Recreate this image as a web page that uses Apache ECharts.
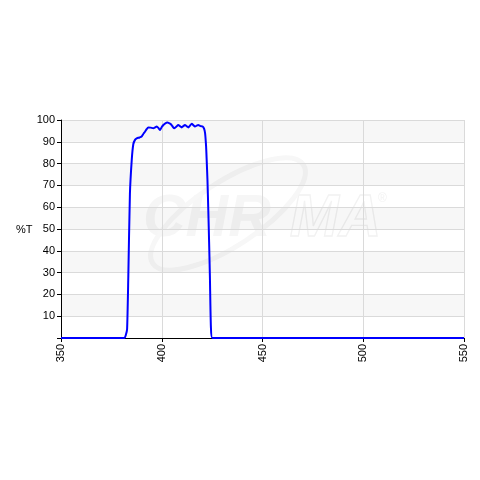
<!DOCTYPE html>
<html>
<head>
<meta charset="utf-8">
<script src="https://cdn.jsdelivr.net/npm/echarts@6/dist/echarts.min.js"></script>
<style>html,body{margin:0;padding:0;background:#fff}#c{width:480px;height:480px}</style>
</head>
<body>
<div id="c"></div>
<script>
var wavelengths = [350, 370, 381.5, 382.2, 382.8, 383.4, 384.2, 385.1, 385.9, 386.8, 387.6, 389, 390, 391, 391.7, 392.5, 393.3, 394.5, 395.8, 396.7, 397.5, 398.3, 399.1, 400, 400.8, 401.8, 402.8, 403.6, 404.4, 405.2, 406.1, 407.2, 408.2, 409, 409.9, 410.7, 411.5, 412.3, 413.2, 414, 414.9, 415.7, 416.5, 417.3, 418.1, 419.2, 420.3, 421, 421.5, 422, 422.3, 422.7, 423.1, 423.5, 423.9, 424.4, 425.1, 430, 450, 500, 550];
var transmission = [0, 0, 0, 1.5, 4, 28, 66, 81.6, 89, 91, 91.6, 92, 92.4, 93.8, 94.6, 95.8, 96.6, 96.5, 96.2, 96.6, 97, 96.4, 95.4, 96.8, 97.7, 98.5, 98.8, 98.6, 98.2, 97.3, 96.2, 96.9, 97.7, 97.2, 96.6, 97.2, 97.7, 97.2, 96.6, 97.4, 98.3, 97.6, 97, 97.4, 97.7, 97.2, 97, 96, 94, 88, 81.6, 72, 58.7, 44, 28, 5, 0, 0, 0, 0, 0];
var xTicks = [350, 400, 450, 500, 550];
var yTicks = [10, 20, 30, 40, 50, 60, 70, 80, 90, 100];

var chart = echarts.init(document.getElementById('c'), null, {renderer: 'canvas'});
var font = 'Arial, "Liberation Sans", sans-serif';
chart.setOption({
  animation: false,
  backgroundColor: '#ffffff',
  grid: {left: 61, right: 16, top: 120, bottom: 142, containLabel: false},
  graphic: [
    {type: 'text', left: 143, top: 190, z: 0, silent: true,
     style: {text: 'CHR', font: 'italic bold 59px ' + font, fill: '#ededed'}},
    {type: 'text', left: 289, top: 190, z: 0, silent: true,
     style: {text: 'MA', font: 'italic bold 59px ' + font, fill: 'none', stroke: '#e4e4e4', lineWidth: 1.3}},
    {type: 'text', left: 378, top: 193, z: 0, silent: true,
     style: {text: '®', font: '12px ' + font, fill: '#e4e4e4'}},
    {type: 'ellipse', z: 0, silent: true, x: 228, y: 214, rotation: 0.58,
     shape: {cx: 0, cy: 0, rx: 90, ry: 32},
     style: {fill: 'none', stroke: '#eeeeee', lineWidth: 5}},
    {type: 'text', left: 16, top: 224, style: {text: '%T', font: '11px ' + font, fill: '#000'}}
  ],
  xAxis: {
    type: 'value', min: 350, max: 550, interval: 50,
    axisLine: {show: true, onZero: false, lineStyle: {color: '#000', width: 1}},
    axisTick: {show: true, length: 4, inside: false, lineStyle: {color: '#000'}},
    axisLabel: {rotate: 90, margin: 6, color: '#000', fontSize: 11, fontFamily: font,
      formatter: function (v) { return xTicks.indexOf(v) >= 0 ? String(v) : ''; }},
    splitLine: {show: true, lineStyle: {color: '#dadada', width: 1}}
  },
  yAxis: {
    type: 'value', min: 0, max: 100, interval: 10,
    axisLine: {show: true, lineStyle: {color: '#000', width: 1}},
    axisTick: {show: true, length: 4, lineStyle: {color: '#000'}},
    axisLabel: {margin: 6, color: '#000', fontSize: 11, fontFamily: font,
      formatter: function (v) { return yTicks.indexOf(v) >= 0 ? String(v) : ''; }},
    splitLine: {show: true, lineStyle: {color: '#dadada', width: 1}},
    splitArea: {show: true, areaStyle: {color: ['rgba(255,255,255,0.5)', 'rgba(238,238,238,0.45)']}}
  },
  series: [{
    type: 'line',
    data: wavelengths.map(function (w, i) { return [w, transmission[i]]; }),
    showSymbol: false,
    smooth: 0.2,
    lineStyle: {color: '#0000ff', width: 2},
    z: 5
  }]
});
</script>
</body>
</html>
